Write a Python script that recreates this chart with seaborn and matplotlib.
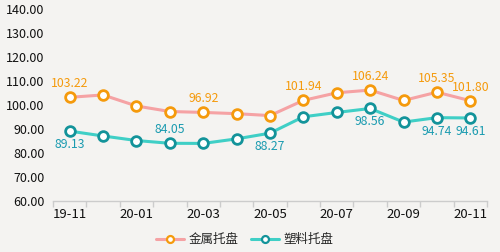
import matplotlib
matplotlib.use("Agg")
import matplotlib.pyplot as plt
import seaborn as sns
import pandas as pd
from matplotlib.lines import Line2D

months = ["19-11", "19-12", "20-01", "20-02", "20-03", "20-04", "20-05",
          "20-06", "20-07", "20-08", "20-09", "20-10", "20-11"]
metal = [103.22, 104.2, 99.6, 97.3, 96.92, 96.4, 95.6, 101.94, 105.1, 106.24, 101.9, 105.35, 101.80]
plastic = [89.13, 87.1, 85.2, 84.05, 84.0, 85.9, 88.27, 95.1, 96.9, 98.56, 92.9, 94.74, 94.61]
metal_labels = [0, 4, 7, 9, 11, 12]
plastic_labels_above = [3]
plastic_labels_below = [0, 6, 9, 11, 12]
yticks = [60, 70, 80, 90, 100, 110, 120, 130, 140]

sns.set_theme(style="white")
plt.rcParams["font.family"] = ["Noto Sans CJK SC", "DejaVu Sans"]

bg = "#f4f3f1"
fig = plt.figure(figsize=(5.0, 2.52), dpi=100)
fig.patch.set_facecolor(bg)
ax = fig.add_axes([0.106, 0.2024, 0.868, 0.7616])
ax.set_facecolor(bg)

df = pd.DataFrame({"x": list(range(len(months))), "metal": metal, "plastic": plastic})

c_metal_line = "#f5a2a4"
c_metal_mk = "#f59a0c"
c_pl_line = "#3fcfc6"
c_pl_mk = "#13939a"
c_pl_txt = "#1a9bb0"

sns.lineplot(data=df, x="x", y="metal", ax=ax, color=c_metal_line, lw=2.2,
             marker="o", markersize=7, markeredgecolor=c_metal_mk,
             markerfacecolor="white", markeredgewidth=2.0, zorder=3)
sns.lineplot(data=df, x="x", y="plastic", ax=ax, color=c_pl_line, lw=2.2,
             marker="o", markersize=7, markeredgecolor=c_pl_mk,
             markerfacecolor="white", markeredgewidth=2.0, zorder=3)

for i in metal_labels:
    ax.annotate(f"{metal[i]:.2f}", (i, metal[i]), xytext=(0, 5), textcoords="offset points",
                ha="center", va="bottom", color=c_metal_mk, fontsize=8.8)
for i in plastic_labels_above:
    ax.annotate(f"{plastic[i]:.2f}", (i, plastic[i]), xytext=(0, 5), textcoords="offset points",
                ha="center", va="bottom", color=c_pl_txt, fontsize=8.8)
for i in plastic_labels_below:
    ax.annotate(f"{plastic[i]:.2f}", (i, plastic[i]), xytext=(0, -5), textcoords="offset points",
                ha="center", va="top", color=c_pl_txt, fontsize=8.8)

ax.set_xlim(-0.5, len(months) - 0.5)
ax.set_ylim(60, 140)
ax.set_yticks(yticks)
ax.set_yticklabels([f"{v:.2f}" for v in yticks], fontsize=9, color="#111111")
ax.set_xticks(list(range(0, len(months), 2)))
ax.set_xticklabels(months[::2], fontsize=9.5, color="#111111")
ax.set_xticks([i - 0.5 for i in range(len(months) + 1)], minor=True)
ax.tick_params(axis="x", which="major", length=0, pad=5)
ax.tick_params(axis="x", which="minor", length=4, color="#cccccc", width=1, bottom=True)
ax.tick_params(axis="y", length=0, pad=6)
ax.set_xlabel("")
ax.set_ylabel("")
for s in ["top", "right", "left"]:
    ax.spines[s].set_visible(False)
ax.spines["bottom"].set_color("#cccccc")
ax.spines["bottom"].set_linewidth(1)
ax.grid(False)

handles = [
    Line2D([0], [0], color=c_metal_line, lw=2.2, marker="o", markersize=5,
           markeredgecolor=c_metal_mk, markerfacecolor="white", markeredgewidth=1.6),
    Line2D([0], [0], color=c_pl_line, lw=2.2, marker="o", markersize=5,
           markeredgecolor=c_pl_mk, markerfacecolor="white", markeredgewidth=1.6),
]
fig.legend(handles, ["金属托盘", "塑料托盘"], loc="center", bbox_to_anchor=(0.49, 0.048),
           ncol=2, frameon=False, fontsize=9, handlelength=2.2, columnspacing=1.0,
           handletextpad=0.4)

fig.savefig("out.png", dpi=100, facecolor=bg)
